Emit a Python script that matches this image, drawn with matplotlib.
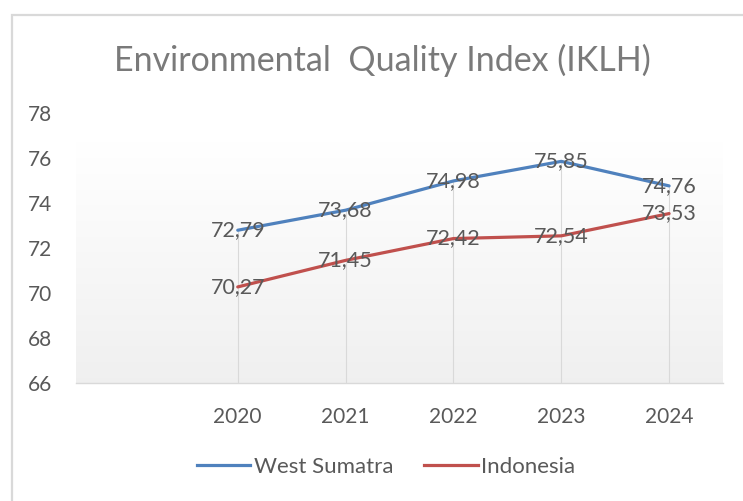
import matplotlib
matplotlib.use("Agg")
import matplotlib.pyplot as plt
import numpy as np
from matplotlib.patches import Rectangle
from matplotlib.lines import Line2D

plt.rcParams['font.family'] = ['Lato', 'DejaVu Sans']

categories = ["", "2020", "2021", "2022", "2023", "2024"]
west_sumatra = [None, 72.79, 73.68, 74.98, 75.85, 74.76]
indonesia = [None, 70.27, 71.45, 72.42, 72.54, 73.53]
yticks = [66, 68, 70, 72, 74, 76, 78]
title = "Environmental  Quality Index (IKLH)"

W, H = 743, 501
fig = plt.figure(figsize=(W / 100, H / 100), dpi=100)
fig.patch.set_facecolor("white")

# outer chart frame
fig.patches.append(Rectangle((11.5 / W, -0.1), 2.0, 1.1 - 14.5 / H,
                             transform=fig.transFigure, fill=False,
                             edgecolor="#d9d9d9", lw=1.6, zorder=0))

ax = fig.add_axes([76 / W, 1 - 383 / H, (723 - 76) / W, (383 - 113) / H])
ax.set_xlim(-0.5, len(categories) - 0.5)
ax.set_ylim(66, 78)

# gradient background
ys = np.linspace(78, 66, 300)
vals = np.where(ys > 76.7, 1.0, 1.0 - (76.7 - ys) / (76.7 - 66) * 0.06)
grad = vals[:, None, None] * np.ones((1, 2, 3))
ax.imshow(grad, extent=[-0.5, len(categories) - 0.5, 66, 78], aspect="auto",
          zorder=0, interpolation="bilinear")

x = np.arange(len(categories))
ws_x = [i for i, v in enumerate(west_sumatra) if v is not None]
ws_y = [v for v in west_sumatra if v is not None]
in_x = [i for i, v in enumerate(indonesia) if v is not None]
in_y = [v for v in indonesia if v is not None]

# drop lines
for xi, a, b in zip(ws_x, ws_y, in_y):
    ax.plot([xi, xi], [66, max(a, b)], color="#d9d9d9", lw=0.8, zorder=1)

blue = "#4f81bd"
red = "#c0504d"
ax.plot(ws_x, ws_y, color=blue, lw=2.3, zorder=3, solid_capstyle="round")
ax.plot(in_x, in_y, color=red, lw=2.3, zorder=3, solid_capstyle="round")

lab_col = "#595959"
for xi, v in zip(ws_x, ws_y):
    ax.text(xi, v, f"{v:.2f}".replace(".", ","), ha="center", va="center",
            fontsize=15.5, color=lab_col, zorder=4)
for xi, v in zip(in_x, in_y):
    ax.text(xi, v, f"{v:.2f}".replace(".", ","), ha="center", va="center",
            fontsize=15.5, color=lab_col, zorder=4)

ax.set_xticks(x)
ax.set_xticklabels(categories)
ax.set_yticks(yticks)
ax.set_yticklabels([str(t) for t in yticks])
ax.tick_params(axis="both", length=0, labelsize=15, labelcolor=lab_col)
ax.tick_params(axis="x", pad=17)
ax.tick_params(axis="y", pad=17)
for s in ["top", "right", "left"]:
    ax.spines[s].set_visible(False)
ax.spines["bottom"].set_color("#d9d9d9")
ax.spines["bottom"].set_linewidth(1.0)
ax.spines["bottom"].set_zorder(2)

fig.text(382 / W, 1 - 60 / H, title, ha="center", va="center",
         fontsize=24.5, color="#7a7a7a")

handles = [Line2D([], [], color=blue, lw=2.3), Line2D([], [], color=red, lw=2.3)]
fig.legend(handles, ["West Sumatra", "Indonesia"], loc="center",
           bbox_to_anchor=(386 / W, 1 - 467 / H), ncol=2, frameon=False,
           fontsize=16, labelcolor=lab_col, handlelength=2.4,
           handletextpad=0.15, columnspacing=1.4)

fig.savefig("out.png", dpi=100)
